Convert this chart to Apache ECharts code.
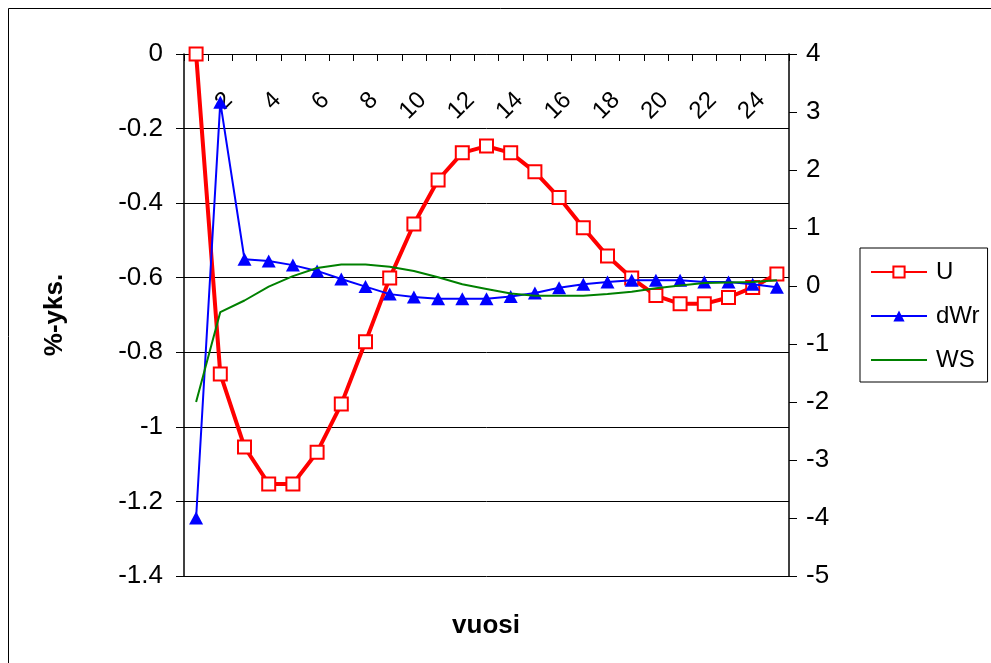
<!DOCTYPE html>
<html>
<head>
<meta charset="utf-8">
<script src="https://cdn.jsdelivr.net/npm/echarts@6/dist/echarts.min.js"></script>
<style>
  html, body { margin: 0; padding: 0; background: #fff; }
  #chart { width: 991px; height: 663px; }
</style>
</head>
<body>
<div id="chart"></div>
<script>
// ---- data ----
const years = ['1','2','3','4','5','6','7','8','9','10','11','12','13','14','15','16','17','18','19','20','21','22','23','24','25'];
const U   = [0, -0.858, -1.054, -1.153, -1.153, -1.068, -0.939, -0.772, -0.601, -0.456, -0.338, -0.265, -0.247, -0.265, -0.316, -0.385, -0.466, -0.542, -0.601, -0.648, -0.670, -0.670, -0.653, -0.626, -0.590];
const dWr = [-4.0, 3.17, 0.46, 0.43, 0.36, 0.26, 0.12, -0.01, -0.14, -0.19, -0.22, -0.22, -0.22, -0.18, -0.12, -0.03, 0.03, 0.07, 0.10, 0.10, 0.10, 0.07, 0.07, 0.03, -0.02];
const WS  = [-2.0, -0.45, -0.25, -0.01, 0.17, 0.31, 0.37, 0.37, 0.33, 0.26, 0.15, 0.03, -0.05, -0.13, -0.17, -0.17, -0.17, -0.14, -0.10, -0.04, 0.01, 0.05, 0.06, 0.07, 0.10];
const leftTicks  = { min: -1.4, max: 0, interval: 0.2 };
const rightTicks = { min: -5, max: 4, interval: 1 };
const xTitle = 'vuosi';
const yTitle = '%-yks.';

const FONT = "'Liberation Sans', Arial, sans-serif";
const GRID = { left: 184, right: 202, top: 54, bottom: 87 };
const plotHeight = 663 - GRID.top - GRID.bottom;

const chart = echarts.init(document.getElementById('chart'), null, { renderer: 'canvas' });

chart.setOption({
  animation: false,
  backgroundColor: '#fff',
  textStyle: { fontFamily: FONT, color: '#000' },
  grid: Object.assign({ containLabel: false, outerBoundsMode: 'none' }, GRID),
  legend: {
    data: [
      { name: 'U' },
      { name: 'dWr' },
      { name: 'WS', itemStyle: { opacity: 0 } }
    ],
    orient: 'vertical',
    left: 860, top: 248,
    padding: [12, 8, 10, 10],
    borderColor: '#000', borderWidth: 1,
    itemWidth: 56, itemHeight: 14, itemGap: 20,
    textStyle: { fontSize: 24, color: '#000', fontFamily: FONT, padding: [0, 0, 0, 4] }
  },
  xAxis: {
    type: 'category',
    data: years,
    boundaryGap: true,
    position: 'bottom',
    offset: -plotHeight,
    axisLine: { onZero: false, lineStyle: { color: '#000', width: 1 } },
    axisTick: { show: true, interval: 0, length: 7, lineStyle: { color: '#000' } },
    axisLabel: {
      interval: (idx) => idx % 2 === 1,
      rotate: 45, fontSize: 24, color: '#000', fontFamily: FONT,
      align: 'right', verticalAlign: 'top', margin: 34
    },
    splitLine: { show: false }
  },
  yAxis: [
    {
      type: 'value', position: 'left',
      min: leftTicks.min, max: leftTicks.max, interval: leftTicks.interval,
      name: yTitle, nameLocation: 'middle', nameGap: 116, nameRotate: 90,
      nameTextStyle: { fontSize: 26, fontWeight: 'bold', color: '#000', fontFamily: FONT },
      axisLine: { show: true, lineStyle: { color: '#000', width: 1.5 } },
      axisTick: { show: true, length: 8, lineStyle: { color: '#000' } },
      axisLabel: { fontSize: 26, color: '#000', margin: 21, fontFamily: FONT },
      splitLine: { show: true, lineStyle: { color: '#000', width: 1 } }
    },
    {
      type: 'value', position: 'right',
      min: rightTicks.min, max: rightTicks.max, interval: rightTicks.interval,
      axisLine: { show: true, lineStyle: { color: '#000', width: 1.5 } },
      axisTick: { show: true, length: 8, lineStyle: { color: '#000' } },
      axisLabel: { fontSize: 26, color: '#000', margin: 17, fontFamily: FONT },
      splitLine: { show: false }
    }
  ],
  series: [
    {
      name: 'U', type: 'line', yAxisIndex: 0, data: U,
      symbol: 'rect', symbolSize: 13, showAllSymbol: true,
      lineStyle: { color: '#ff0000', width: 4 },
      itemStyle: { color: '#ffffff', borderColor: '#ff0000', borderWidth: 2 },
      z: 2
    },
    {
      name: 'dWr', type: 'line', yAxisIndex: 1, data: dWr,
      symbol: 'triangle', symbolSize: [14, 13], showAllSymbol: true,
      lineStyle: { color: '#0000ff', width: 2 },
      itemStyle: { color: '#0000ff' },
      z: 3
    },
    {
      name: 'WS', type: 'line', yAxisIndex: 1, data: WS,
      symbol: 'none', showSymbol: false,
      lineStyle: { color: '#008000', width: 2 },
      itemStyle: { color: '#008000' },
      z: 4
    }
  ],
  graphic: [
    {
      type: 'rect', silent: true, z: 0,
      shape: { x: 8.5, y: 8.5, width: 1000, height: 700 },
      style: { fill: 'none', stroke: '#000', lineWidth: 1 }
    },
    {
      type: 'text', silent: true,
      x: 486, y: 626,
      style: { text: xTitle, fontSize: 26, fontWeight: 'bold', fontFamily: FONT, fill: '#000', align: 'center', verticalAlign: 'middle' }
    }
  ]
});
</script>
</body>
</html>
